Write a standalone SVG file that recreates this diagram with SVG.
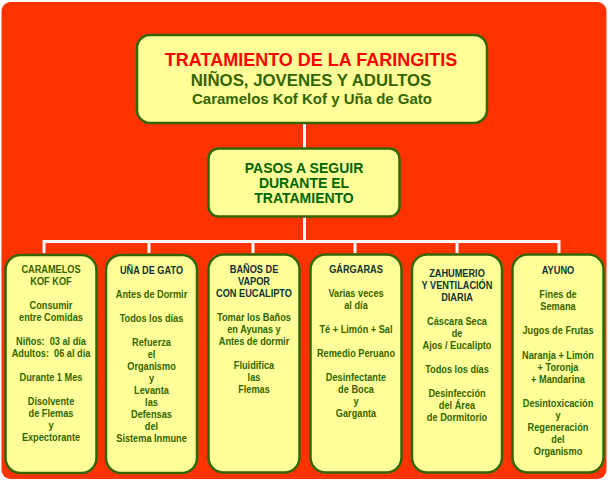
<svg xmlns="http://www.w3.org/2000/svg" width="610" height="481" viewBox="0 0 610 481">
<style>
.box{fill:#FFFF99;stroke:#336600;stroke-width:2.5}
.t{font-family:"Liberation Sans",Arial,sans-serif;font-weight:bold;text-anchor:middle}
.n{font-family:"Liberation Sans",Arial,sans-serif;font-weight:bold;font-size:10.7px;text-anchor:middle;fill:#336600}
.h{fill:#0d3333}
.conn{stroke:#FFFFFF;stroke-width:3;fill:none}
</style>
<rect x="1.5" y="2" width="605" height="477" rx="9" fill="#FF3300"/>
<g id="connectors">
<line class="conn" x1="304.5" y1="122" x2="304.5" y2="148"/>
<line class="conn" x1="304.5" y1="216" x2="304.5" y2="241.5"/>
<line class="conn" x1="44" y1="241.5" x2="559" y2="241.5"/>
<line class="conn" x1="44" y1="240" x2="44" y2="253"/>
<line class="conn" x1="149" y1="240" x2="149" y2="253"/>
<line class="conn" x1="253" y1="240" x2="253" y2="253"/>
<line class="conn" x1="355" y1="240" x2="355" y2="253"/>
<line class="conn" x1="457" y1="240" x2="457" y2="253"/>
<line class="conn" x1="559" y1="240" x2="559" y2="253"/>
</g>
<g id="title">
<rect class="box" x="137" y="35" width="350" height="88" rx="13"/>
<text class="t" x="311" y="66" font-size="18" fill="#FF0000">TRATAMIENTO DE LA FARINGITIS</text>
<text class="t" x="311" y="86" font-size="16.8" fill="#336600">NIÑOS, JOVENES Y ADULTOS</text>
<text class="t" x="312" y="104" font-size="15" fill="#336600">Caramelos Kof Kof y Uña de Gato</text>
</g>
<g id="pasos">
<rect class="box" x="208.5" y="148.5" width="191" height="68" rx="10"/>
<text class="t" x="304" y="173" font-size="14" fill="#006600">PASOS A SEGUIR</text>
<text class="t" x="304" y="188" font-size="14" fill="#006600">DURANTE EL</text>
<text class="t" x="304" y="203" font-size="14" fill="#006600">TRATAMIENTO</text>
</g>
<g id="caramelos">
<rect class="box" x="5.5" y="255" width="91" height="218" rx="15"/>
<g transform="translate(51,0) scale(0.86,1)">
<text class="n" x="0" y="273" font-size="11" fill="#1f4a0f">CARAMELOS</text>
<text class="n" x="0" y="285" font-size="11" fill="#1f4a0f">KOF KOF</text>
<text class="n" x="0" y="309">Consumir</text>
<text class="n" x="0" y="321">entre Comidas</text>
<text class="n" x="0" y="345" xml:space="preserve">Niños:  03 al día</text>
<text class="n" x="0" y="357" xml:space="preserve">Adultos:  06 al día</text>
<text class="n" x="0" y="381">Durante 1 Mes</text>
<text class="n" x="0" y="405">Disolvente</text>
<text class="n" x="0" y="417">de Flemas</text>
<text class="n" x="0" y="429">y</text>
<text class="n" x="0" y="441">Expectorante</text>
</g>
</g>
<g id="una">
<rect class="box" x="106" y="255" width="91" height="218" rx="15"/>
<g transform="translate(151.5,0) scale(0.86,1)">
<text class="n h" x="0" y="274">UÑA DE GATO</text>
<text class="n" x="0" y="298">Antes de Dormir</text>
<text class="n" x="0" y="322">Todos los días</text>
<text class="n" x="0" y="346">Refuerza</text>
<text class="n" x="0" y="358">el</text>
<text class="n" x="0" y="370">Organismo</text>
<text class="n" x="0" y="382">y</text>
<text class="n" x="0" y="394">Levanta</text>
<text class="n" x="0" y="406">las</text>
<text class="n" x="0" y="418">Defensas</text>
<text class="n" x="0" y="430">del</text>
<text class="n" x="0" y="442">Sistema Inmune</text>
</g>
</g>
<g id="banos">
<rect class="box" x="208.5" y="254.5" width="91" height="218" rx="15"/>
<g transform="translate(254,0) scale(0.86,1)">
<text class="n h" x="0" y="273">BAÑOS DE</text>
<text class="n h" x="0" y="285">VAPOR</text>
<text class="n h" x="0" y="297">CON EUCALIPTO</text>
<text class="n" x="0" y="321">Tomar los Baños</text>
<text class="n" x="0" y="333">en Ayunas y</text>
<text class="n" x="0" y="345">Antes de dormir</text>
<text class="n" x="0" y="369">Fluidifica</text>
<text class="n" x="0" y="381">las</text>
<text class="n" x="0" y="393">Flemas</text>
</g>
</g>
<g id="gargaras">
<rect class="box" x="310.5" y="254.5" width="91" height="218" rx="15"/>
<g transform="translate(356,0) scale(0.86,1)">
<text class="n h" x="0" y="273">GÁRGARAS</text>
<text class="n" x="0" y="297">Varias veces</text>
<text class="n" x="0" y="309">al día</text>
<text class="n" x="0" y="333">Té + Limón + Sal</text>
<text class="n" x="0" y="357">Remedio Peruano</text>
<text class="n" x="0" y="381">Desinfectante</text>
<text class="n" x="0" y="393">de Boca</text>
<text class="n" x="0" y="405">y</text>
<text class="n" x="0" y="417">Garganta</text>
</g>
</g>
<g id="zahumerio">
<rect class="box" x="412" y="254.5" width="90" height="218" rx="15"/>
<g transform="translate(457,0) scale(0.86,1)">
<text class="n h" x="0" y="277">ZAHUMERIO</text>
<text class="n h" x="0" y="289">Y VENTILACIÓN</text>
<text class="n h" x="0" y="301">DIARIA</text>
<text class="n" x="0" y="325">Cáscara Seca</text>
<text class="n" x="0" y="337">de</text>
<text class="n" x="0" y="349">Ajos / Eucalipto</text>
<text class="n" x="0" y="373">Todos los días</text>
<text class="n" x="0" y="397">Desinfección</text>
<text class="n" x="0" y="409">del Área</text>
<text class="n" x="0" y="421">de Dormitorio</text>
</g>
</g>
<g id="ayuno">
<rect class="box" x="512.5" y="254.5" width="91" height="218" rx="15"/>
<g transform="translate(558,0) scale(0.86,1)">
<text class="n h" x="0" y="274">AYUNO</text>
<text class="n" x="0" y="298">Fines de</text>
<text class="n" x="0" y="310">Semana</text>
<text class="n" x="0" y="334">Jugos de Frutas</text>
<text class="n" x="0" y="359">Naranja + Limón</text>
<text class="n" x="0" y="371">+ Toronja</text>
<text class="n" x="0" y="383">+ Mandarina</text>
<text class="n" x="0" y="407">Desintoxicación</text>
<text class="n" x="0" y="419">y</text>
<text class="n" x="0" y="431">Regeneración</text>
<text class="n" x="0" y="443">del</text>
<text class="n" x="0" y="455">Organismo</text>
</g>
</g>
</svg>
